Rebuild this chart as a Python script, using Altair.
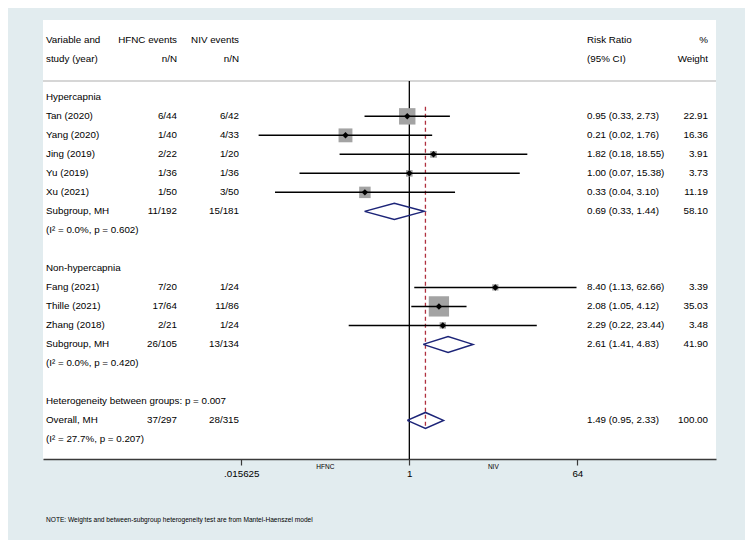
import altair as alt
import pandas as pd

FONT = "Liberation Sans"

# ---------------- data ----------------
header_1 = ["Variable and", "HFNC events", "NIV events", "Risk Ratio", "%"]
header_2 = ["study (year)", "n/N", "n/N", "(95% CI)", "Weight"]

group_names = ["Hypercapnia", "Non-hypercapnia"]
group_rows = [0, 9]

study_names = ["Tan (2020)", "Yang (2020)", "Jing (2019)", "Yu (2019)", "Xu (2021)",
               "Fang (2021)", "Thille (2021)", "Zhang (2018)"]
study_rows = [1, 2, 3, 4, 5, 10, 11, 12]
study_hfnc = ["6/44", "1/40", "2/22", "1/36", "1/50", "7/20", "17/64", "2/21"]
study_niv = ["6/42", "4/33", "1/20", "1/36", "3/50", "1/24", "11/86", "1/24"]
study_rr = [0.95, 0.206, 1.82, 1.00, 0.333, 8.40, 2.08, 2.29]
study_lo = [0.33, 0.024, 0.178, 0.066, 0.036, 1.13, 1.05, 0.223]
study_hi = [2.73, 1.76, 18.55, 15.38, 3.10, 62.66, 4.12, 23.44]
study_wt = [22.91, 16.36, 3.91, 3.73, 11.19, 3.39, 35.03, 3.48]

pool_names = ["Subgroup, MH", "Subgroup, MH", "Overall, MH"]
pool_rows = [6, 13, 17]
pool_hfnc = ["11/192", "26/105", "37/297"]
pool_niv = ["15/181", "13/134", "28/315"]
pool_rr = [0.69, 2.61, 1.49]
pool_lo = [0.33, 1.41, 0.95]
pool_hi = [1.44, 4.83, 2.33]
pool_wt = [58.10, 41.90, 100.00]

het_notes = ["(I\u00b2 = 0.0%, p = 0.602)", "(I\u00b2 = 0.0%, p = 0.420)",
             "Heterogeneity between groups: p = 0.007", "(I\u00b2 = 27.7%, p = 0.207)"]
het_rows = [7, 14, 16, 18]

tick_values = [0.015625, 1, 64]
tick_labels = [".015625", "1", "64"]
side_labels = ["HFNC", "NIV"]
side_values = [0.125, 8]
note = "NOTE: Weights and between-subgroup heterogeneity test are from Mantel-Haenszel model"

# ---------------- layout / style ----------------
W, H = 673, 439
BG = "#e2ecef"
col_x = [3, 134, 196, 544, 665]
col_align = ["left", "right", "right", "left", "right"]
FS = 9.8

xscale = alt.Scale(type="log", base=2, domain=[2 ** -13.08, 2 ** 10.95], nice=False, zero=False)
yscale = alt.Scale(domain=[-4.07, 19.03], reverse=True, nice=False, zero=False)

expr = f"'{tick_labels[-1]}'"
for v, l in reversed(list(zip(tick_values[:-1], tick_labels[:-1]))):
    expr = f"abs(datum.value - {v}) < {v * 0.01} ? '{l}' : " + expr

xaxis = alt.Axis(values=tick_values, labelExpr=expr, title=None, grid=False,
                 domainColor="#3a3a3a", domainWidth=1.6, tickColor="#3a3a3a",
                 tickWidth=1.2, tickSize=6, labelFont=FONT, labelFontSize=FS,
                 labelColor="black", labelPadding=3, labelFlush=False,
                 labelOverlap=False)


def xenc(f):
    return alt.X(f, type="quantitative", scale=xscale, axis=xaxis)


def yenc(f):
    return alt.Y(f, type="quantitative", scale=yscale, axis=None)


# ---------------- tables ----------------
studies = pd.DataFrame({"row": study_rows, "rr": study_rr, "lo": study_lo,
                        "hi": study_hi, "w": study_wt})

dia = []
for i, (r, e, lo, hi) in enumerate(zip(pool_rows, pool_rr, pool_lo, pool_hi)):
    pts = [(lo, r), (e, r - 0.42), (hi, r), (e, r + 0.42), (lo, r)]
    for k, (xv, yv) in enumerate(pts):
        dia.append({"id": i, "k": k, "x": xv, "y": yv})
dia = pd.DataFrame(dia)

cols = [[] for _ in range(5)]
for c in range(5):
    cols[c].append((-3, header_1[c]))
    cols[c].append((-2, header_2[c]))
for r, t in zip(group_rows, group_names):
    cols[0].append((r, t))
for r, t in zip(het_rows, het_notes):
    cols[0].append((r, t))
all_rows = study_rows + pool_rows
all_names = study_names + pool_names
all_hfnc = study_hfnc + pool_hfnc
all_niv = study_niv + pool_niv
all_rr = study_rr + pool_rr
all_lo = study_lo + pool_lo
all_hi = study_hi + pool_hi
all_wt = study_wt + pool_wt
for i, r in enumerate(all_rows):
    cols[0].append((r, all_names[i]))
    cols[1].append((r, all_hfnc[i]))
    cols[2].append((r, all_niv[i]))
    cols[3].append((r, f"{all_rr[i]:.2f} ({all_lo[i]:.2f}, {all_hi[i]:.2f})"))
    cols[4].append((r, f"{all_wt[i]:.2f}"))

# ---------------- layers ----------------
sep = alt.Chart(pd.DataFrame({"y": [-0.86]})).mark_rule(
    color="#c9c9c9", strokeWidth=1.5).encode(
    y=yenc("y"), x=alt.value(0), x2=alt.value(W))

null_line = alt.Chart(pd.DataFrame({"x": [1], "y0": [-0.86]})).mark_rule(
    color="black", strokeWidth=1.3).encode(
    x=xenc("x"), y=yenc("y0"), y2=alt.value(H))

over_line = alt.Chart(pd.DataFrame({"x": [pool_rr[-1]],
                                    "y0": [study_rows[0] - 0.5],
                                    "y1": [pool_rows[-1] + 0.42]})).mark_rule(
    color="#b0303f", strokeWidth=1.3, strokeDash=[4, 3]).encode(
    x=xenc("x"), y=yenc("y0"), y2=alt.Y2("y1"))

boxes = alt.Chart(studies).mark_square(color="#a3a3a3", opacity=1).encode(
    x=xenc("rr"), y=yenc("row"),
    size=alt.Size("w:Q", scale=alt.Scale(domain=[0, 40], range=[0, 470]), legend=None))

ci = alt.Chart(studies).mark_rule(color="black", strokeWidth=1.5).encode(
    x=xenc("lo"), x2=alt.X2("hi"), y=yenc("row"))

pts = alt.Chart(studies).mark_point(shape="diamond", filled=True, color="black",
                                    opacity=1, size=42).encode(
    x=xenc("rr"), y=yenc("row"))

diamonds = alt.Chart(dia).mark_line(color="#1c2478", strokeWidth=1.5).encode(
    x=xenc("x"), y=yenc("y"), detail="id:N", order="k:Q")

texts = []
for c in range(5):
    d = pd.DataFrame(cols[c], columns=["row", "text"])
    texts.append(alt.Chart(d).mark_text(
        align=col_align[c], baseline="middle", font=FONT, fontSize=FS,
        color="black").encode(x=alt.value(col_x[c]), y=yenc("row"), text="text:N"))

side = alt.Chart(pd.DataFrame({"x": side_values, "t": side_labels})).mark_text(
    align="center", baseline="middle", font=FONT, fontSize=6.5, color="black").encode(
    x=xenc("x"), y=alt.value(H + 8), text="t:N")

note_l = alt.Chart(pd.DataFrame({"t": [note]})).mark_text(
    align="left", baseline="middle", font=FONT, fontSize=6.6, color="black").encode(
    x=alt.value(3), y=alt.value(500), text="t:N")

chart = alt.layer(sep, null_line, over_line, boxes, ci, pts, diamonds,
                  *texts, side, note_l).properties(
    width=W, height=H, background=BG,
    autosize=alt.AutoSizeParams(type="none"),
    padding={"left": 35, "top": 12, "right": 29, "bottom": 81},
).configure_view(fill="white", stroke=None)

chart.save("out.html", embed_options={"renderer": "svg", "actions": False})
